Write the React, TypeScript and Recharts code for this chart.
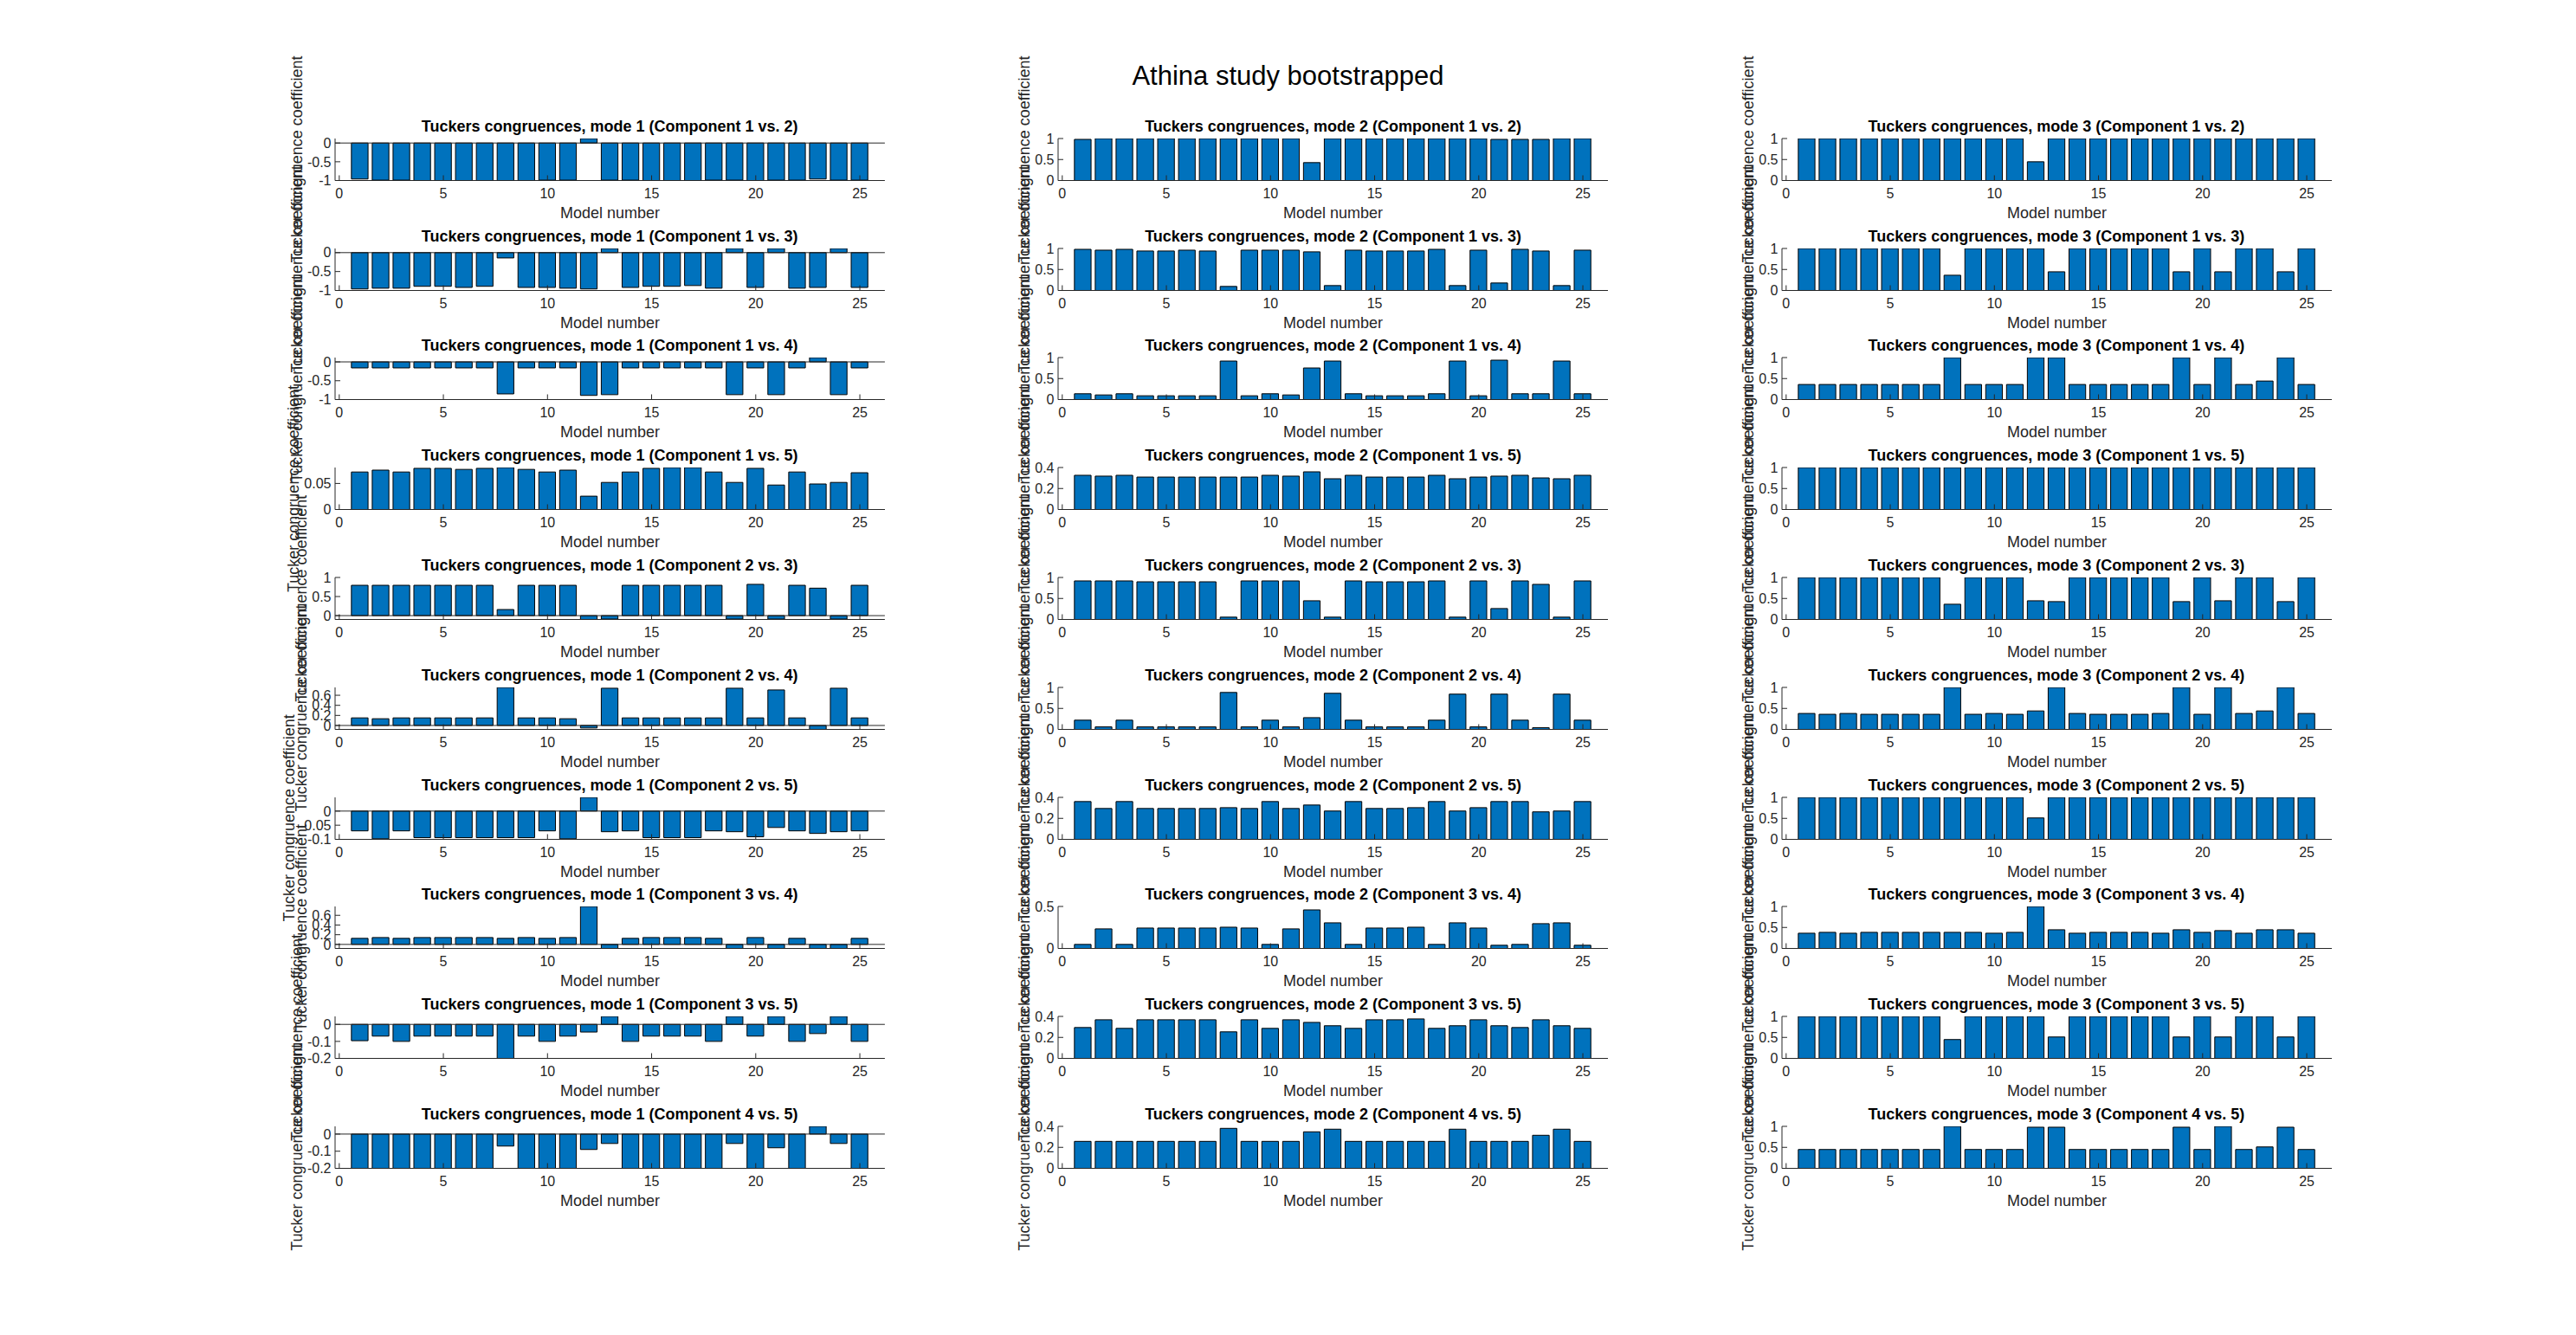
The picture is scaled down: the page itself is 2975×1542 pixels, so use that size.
import React from "react";
import { BarChart, Bar, XAxis, YAxis, ReferenceLine } from "recharts";

// model numbers on the x axis
const modelNumbers = [1, 2, 3, 4, 5, 6, 7, 8, 9, 10, 11, 12, 13, 14, 15, 16, 17, 18, 19, 20, 21, 22, 23, 24, 25];
const componentPairs = ["1 vs. 2", "1 vs. 3", "1 vs. 4", "1 vs. 5", "2 vs. 3", "2 vs. 4", "2 vs. 5", "3 vs. 4", "3 vs. 5", "4 vs. 5"];
const modes = [1, 2, 3];
const xTicks = [0, 5, 10, 15, 20, 25];
const xDomain = [-0.2, 26.2];

// ---- mode 1 ----
const mode1_1v2 = [-0.96, -0.99, -0.99, -1, -1, -1, -1, -1, -1, -0.99, -0.99, 0.12, -0.99, -0.99, -1, -1, -1, -0.99, -0.99, -1, -0.99, -0.99, -0.96, -0.99, -0.99];
const mode1_1v3 = [-0.96, -0.94, -0.94, -0.89, -0.89, -0.92, -0.89, -0.14, -0.92, -0.92, -0.94, -0.96, 0.11, -0.92, -0.89, -0.89, -0.87, -0.94, 0.11, -0.92, 0.11, -0.94, -0.92, 0.11, -0.92];
const mode1_1v4 = [-0.16, -0.16, -0.16, -0.16, -0.16, -0.16, -0.16, -0.85, -0.16, -0.16, -0.16, -0.89, -0.87, -0.16, -0.16, -0.16, -0.16, -0.16, -0.87, -0.16, -0.87, -0.16, 0.115, -0.87, -0.16];
const mode1_1v5 = [0.072, 0.0756, 0.072, 0.079, 0.079, 0.077, 0.079, 0.0806, 0.077, 0.072, 0.0756, 0.0256, 0.052, 0.072, 0.079, 0.0806, 0.0806, 0.072, 0.052, 0.079, 0.047, 0.072, 0.049, 0.052, 0.0706];
const mode1_2v3 = [0.795, 0.795, 0.795, 0.795, 0.795, 0.795, 0.795, 0.16, 0.795, 0.795, 0.795, -0.1, -0.09, 0.795, 0.795, 0.795, 0.795, 0.795, -0.09, 0.82, -0.09, 0.795, 0.72, -0.09, 0.795];
const mode1_2v4 = [0.151, 0.134, 0.151, 0.151, 0.151, 0.151, 0.151, 0.756, 0.151, 0.151, 0.134, -0.05, 0.74, 0.151, 0.151, 0.151, 0.151, 0.151, 0.74, 0.151, 0.706, 0.151, -0.078, 0.74, 0.151];
const mode1_2v5 = [-0.07, -0.098, -0.07, -0.094, -0.094, -0.094, -0.094, -0.094, -0.094, -0.07, -0.098, 0.0485, -0.073, -0.07, -0.094, -0.094, -0.094, -0.07, -0.073, -0.091, -0.058, -0.07, -0.079, -0.073, -0.07];
const mode1_3v4 = [0.125, 0.142, 0.125, 0.142, 0.142, 0.142, 0.142, 0.125, 0.142, 0.125, 0.142, 0.783, -0.083, 0.125, 0.142, 0.142, 0.142, 0.125, -0.083, 0.142, -0.083, 0.125, -0.083, -0.083, 0.125];
const mode1_3v5 = [-0.096, -0.069, -0.1, -0.069, -0.069, -0.069, -0.069, -0.2, -0.069, -0.1, -0.069, -0.045, 0.047, -0.1, -0.069, -0.069, -0.069, -0.1, 0.047, -0.069, 0.047, -0.1, -0.054, 0.047, -0.1];
const mode1_4v5 = [-0.2, -0.2, -0.2, -0.2, -0.2, -0.2, -0.2, -0.07, -0.2, -0.2, -0.2, -0.09, -0.055, -0.2, -0.2, -0.2, -0.2, -0.2, -0.055, -0.2, -0.08, -0.2, 0.045, -0.055, -0.2];

// ---- mode 2 ----
const mode2_1v2 = [0.98, 1, 1, 1, 1, 1, 1, 1, 1, 1, 1, 0.426, 1, 1, 1, 1, 1, 1, 1, 1, 0.98, 0.98, 0.98, 1, 1];
const mode2_1v3 = [0.98, 0.96, 0.98, 0.94, 0.94, 0.96, 0.94, 0.096, 0.96, 0.96, 0.96, 0.92, 0.116, 0.96, 0.94, 0.94, 0.94, 0.98, 0.116, 0.96, 0.178, 0.98, 0.94, 0.116, 0.96];
const mode2_1v4 = [0.138, 0.11, 0.138, 0.09, 0.09, 0.09, 0.09, 0.917, 0.09, 0.138, 0.11, 0.752, 0.917, 0.138, 0.09, 0.09, 0.09, 0.138, 0.917, 0.09, 0.938, 0.138, 0.138, 0.917, 0.138];
const mode2_1v5 = [0.326, 0.318, 0.326, 0.309, 0.309, 0.309, 0.309, 0.309, 0.309, 0.326, 0.318, 0.359, 0.293, 0.326, 0.309, 0.309, 0.309, 0.326, 0.293, 0.309, 0.318, 0.326, 0.301, 0.293, 0.326];
const mode2_2v3 = [0.918, 0.918, 0.918, 0.897, 0.897, 0.897, 0.897, 0.055, 0.918, 0.918, 0.918, 0.445, 0.055, 0.918, 0.897, 0.897, 0.897, 0.918, 0.055, 0.918, 0.26, 0.918, 0.836, 0.055, 0.918];
const mode2_2v4 = [0.22, 0.06, 0.22, 0.06, 0.06, 0.06, 0.06, 0.88, 0.06, 0.22, 0.06, 0.28, 0.86, 0.22, 0.06, 0.06, 0.06, 0.22, 0.84, 0.06, 0.84, 0.22, 0.04, 0.84, 0.22];
const mode2_2v5 = [0.36, 0.294, 0.36, 0.294, 0.294, 0.294, 0.294, 0.302, 0.294, 0.36, 0.294, 0.327, 0.27, 0.36, 0.294, 0.294, 0.302, 0.36, 0.27, 0.302, 0.36, 0.36, 0.262, 0.27, 0.36];
const mode2_3v4 = [0.048, 0.233, 0.048, 0.243, 0.243, 0.243, 0.243, 0.253, 0.243, 0.048, 0.233, 0.459, 0.305, 0.048, 0.243, 0.243, 0.253, 0.048, 0.305, 0.243, 0.038, 0.048, 0.295, 0.305, 0.038];
const mode2_3v5 = [0.294, 0.368, 0.286, 0.368, 0.368, 0.368, 0.368, 0.253, 0.368, 0.286, 0.368, 0.343, 0.311, 0.286, 0.368, 0.368, 0.376, 0.286, 0.311, 0.368, 0.311, 0.294, 0.368, 0.311, 0.286];
const mode2_4v5 = [0.257, 0.257, 0.257, 0.257, 0.257, 0.257, 0.257, 0.381, 0.257, 0.257, 0.257, 0.348, 0.373, 0.257, 0.257, 0.257, 0.257, 0.257, 0.373, 0.257, 0.257, 0.257, 0.315, 0.373, 0.257];

// ---- mode 3 ----
const mode3_1v2 = [1, 1, 1, 1, 1, 1, 1, 1, 1, 1, 1, 0.446, 1, 1, 1, 1, 1, 1, 1, 1, 1, 1, 1, 1, 1];
const mode3_1v3 = [1, 1, 1, 1, 1, 1, 1, 0.363, 1, 1, 1, 1, 0.445, 1, 1, 1, 1, 1, 0.445, 1, 0.445, 1, 1, 0.445, 1];
const mode3_1v4 = [0.359, 0.359, 0.359, 0.359, 0.359, 0.359, 0.359, 1, 0.359, 0.359, 0.359, 1, 1, 0.359, 0.359, 0.359, 0.359, 0.359, 1, 0.359, 1, 0.359, 0.441, 1, 0.359];
const mode3_1v5 = [1, 1, 1, 1, 1, 1, 1, 1, 1, 1, 1, 1, 1, 1, 1, 1, 1, 1, 1, 1, 1, 1, 1, 1, 1];
const mode3_2v3 = [1, 1, 1, 1, 1, 1, 1, 0.363, 1, 1, 1, 0.445, 0.425, 1, 1, 1, 1, 1, 0.425, 1, 0.445, 1, 1, 0.425, 1];
const mode3_2v4 = [0.38, 0.36, 0.38, 0.36, 0.36, 0.36, 0.36, 1, 0.36, 0.38, 0.36, 0.44, 1, 0.38, 0.36, 0.36, 0.36, 0.38, 1, 0.36, 1, 0.38, 0.44, 1, 0.38];
const mode3_2v5 = [1, 1, 1, 1, 1, 1, 1, 1, 1, 1, 1, 0.51, 1, 1, 1, 1, 1, 1, 1, 1, 1, 1, 1, 1, 1];
const mode3_3v4 = [0.363, 0.384, 0.363, 0.384, 0.384, 0.384, 0.384, 0.384, 0.384, 0.363, 0.384, 1, 0.445, 0.363, 0.384, 0.384, 0.384, 0.363, 0.445, 0.384, 0.425, 0.363, 0.445, 0.445, 0.363];
const mode3_3v5 = [1, 1, 1, 1, 1, 1, 1, 0.449, 1, 1, 1, 1, 0.51, 1, 1, 1, 1, 1, 0.51, 1, 0.51, 1, 1, 0.51, 1];
const mode3_4v5 = [0.449, 0.449, 0.449, 0.449, 0.449, 0.449, 0.449, 1, 0.449, 0.449, 0.449, 0.98, 0.98, 0.449, 0.449, 0.449, 0.449, 0.449, 0.98, 0.449, 1, 0.449, 0.51, 0.98, 0.449];

const mode1Series = [mode1_1v2, mode1_1v3, mode1_1v4, mode1_1v5, mode1_2v3, mode1_2v4, mode1_2v5, mode1_3v4, mode1_3v5, mode1_4v5];
const mode2Series = [mode2_1v2, mode2_1v3, mode2_1v4, mode2_1v5, mode2_2v3, mode2_2v4, mode2_2v5, mode2_3v4, mode2_3v5, mode2_4v5];
const mode3Series = [mode3_1v2, mode3_1v3, mode3_1v4, mode3_1v5, mode3_2v3, mode3_2v4, mode3_2v5, mode3_3v4, mode3_3v5, mode3_4v5];

// y limits and ticks, one per panel
const mode1Domains = [[-1, 0.12], [-1, 0.11], [-1, 0.115], [0, 0.0806], [-0.1, 1], [-0.078, 0.756], [-0.1, 0.0485], [-0.083, 0.783], [-0.2, 0.047], [-0.2, 0.045]];
const mode1Ticks = [[-1, -0.5, 0], [-1, -0.5, 0], [-1, -0.5, 0], [0, 0.05], [0, 0.5, 1], [0, 0.2, 0.4, 0.6], [-0.1, -0.05, 0], [0, 0.2, 0.4, 0.6], [-0.2, -0.1, 0], [-0.2, -0.1, 0]];
const mode2Domains = [[0, 1], [0, 1], [0, 1], [0, 0.4], [0, 1], [0, 1], [0, 0.4], [0, 0.5], [0, 0.4], [0, 0.4]];
const mode2Ticks = [[0, 0.5, 1], [0, 0.5, 1], [0, 0.5, 1], [0, 0.2, 0.4], [0, 0.5, 1], [0, 0.5, 1], [0, 0.2, 0.4], [0, 0.5], [0, 0.2, 0.4], [0, 0.2, 0.4]];
const mode3Domains = [[0, 1], [0, 1], [0, 1], [0, 1], [0, 1], [0, 1], [0, 1], [0, 1], [0, 1], [0, 1]];
const mode3Ticks = [[0, 0.5, 1], [0, 0.5, 1], [0, 0.5, 1], [0, 0.5, 1], [0, 0.5, 1], [0, 0.5, 1], [0, 0.5, 1], [0, 0.5, 1], [0, 0.5, 1], [0, 0.5, 1]];

const allSeries = [mode1Series, mode2Series, mode3Series];
const allDomains = [mode1Domains, mode2Domains, mode3Domains];
const allTicks = [mode1Ticks, mode2Ticks, mode3Ticks];

// layout (matlab subplot 10x3)
const PAGE_W = 2975;
const PAGE_H = 1542;
const COL_LEFT = [386.75, 1222.1, 2057.5];
const PLOT_W = 634.9;
const PLOT_H = 48.5;
const ROW0_BOTTOM = 208.3;
const ROW_STEP = 126.8;
const AXIS_W = 110;
const PAD_TOP = 10;
const PAD_RIGHT = 10;
const XAXIS_H = 60;
const BAR_W = (0.8 * PLOT_W) / (xDomain[1] - xDomain[0]);

const FONT = "'Liberation Sans', Arial, Helvetica, sans-serif";
const AXIS_COLOR = "#262626";
const BAR_COLOR = "#0072BD";

// rough Arial widths for tick text, used to place the y label
function tickTextWidth(t: number) {
  return String(t)
    .split("")
    .reduce((s, c) => s + (c === "-" ? 0.333 : c === "." ? 0.278 : 0.556), 0) * 16;
}

function Panel({ values, domain, ticks, left, top }: { values: number[]; domain: number[]; ticks: number[]; left: number; top: number }) {
  const data = modelNumbers.map((n, i) => ({ model: n, value: values[i] }));
  return (
    <div style={{ position: "absolute", left: left - AXIS_W, top: top - PAD_TOP }}>
      <BarChart
        width={AXIS_W + PLOT_W + PAD_RIGHT}
        height={PAD_TOP + PLOT_H + XAXIS_H}
        data={data}
        margin={{ top: PAD_TOP, right: PAD_RIGHT, bottom: 0, left: 0 }}
        barSize={BAR_W}
      >
        <XAxis
          dataKey="model"
          type="number"
          domain={xDomain}
          ticks={xTicks}
          interval={0}
          allowDataOverflow
          height={XAXIS_H}
          tickSize={-6}
          tickMargin={15}
          stroke={AXIS_COLOR}
          tick={{ fill: AXIS_COLOR, fontSize: 16, fontFamily: FONT }}
          label={{ value: "Model number", position: "insideTop", offset: 31, fill: AXIS_COLOR, fontSize: 18, fontFamily: FONT }}
        />
        <YAxis
          type="number"
          domain={domain}
          ticks={ticks}
          interval={0}
          allowDataOverflow
          width={AXIS_W}
          tickSize={-6}
          tickMargin={10.5}
          stroke={AXIS_COLOR}
          tick={{ fill: AXIS_COLOR, fontSize: 16, fontFamily: FONT }}
        />
        <Bar dataKey="value" fill={BAR_COLOR} stroke="#000000" strokeWidth={1} isAnimationActive={false} />
        <ReferenceLine y={0} stroke={AXIS_COLOR} strokeWidth={1} />
      </BarChart>
    </div>
  );
}

export default function App() {
  const panels = [];
  modes.forEach((mode, c) => {
    componentPairs.forEach((pair, r) => {
      const top = ROW0_BOTTOM + r * ROW_STEP - PLOT_H;
      panels.push({
        key: `${mode}-${r}`,
        title: `Tuckers congruences, mode ${mode} (Component ${pair})`,
        values: allSeries[c][r],
        domain: allDomains[c][r],
        ticks: allTicks[c][r],
        left: COL_LEFT[c],
        top,
      });
    });
  });

  return (
    <div style={{ position: "relative", width: PAGE_W, height: PAGE_H, background: "#ffffff", overflow: "hidden", fontFamily: FONT }}>
      <style>{"body{margin:0}"}</style>
      {panels.map((p) => (
        <Panel key={p.key} values={p.values} domain={p.domain} ticks={p.ticks} left={p.left} top={p.top} />
      ))}
      <svg width={PAGE_W} height={PAGE_H} style={{ position: "absolute", left: 0, top: 0, pointerEvents: "none" }}>
        <text x={PAGE_W / 2} y={97.5} textAnchor="middle" fontSize={31} fontFamily={FONT} fill="#000000">
          Athina study bootstrapped
        </text>
        {panels.map((p) => {
          const maxW = Math.max(...p.ticks.map(tickTextWidth));
          const cx = p.left - 4.5 - maxW - 12;
          const cy = p.top + PLOT_H / 2;
          return (
            <g key={p.key}>
              <text x={p.left + PLOT_W / 2} y={p.top - 8} textAnchor="middle" fontSize={18} fontWeight="bold" fontFamily={FONT} fill="#000000">
                {p.title}
              </text>
              <text
                transform={`translate(${cx},${cy}) rotate(-90)`}
                textAnchor="middle"
                dominantBaseline="central"
                fontSize={18}
                fontFamily={FONT}
                fill={AXIS_COLOR}
              >
                Tucker congruence coefficient
              </text>
            </g>
          );
        })}
      </svg>
    </div>
  );
}
